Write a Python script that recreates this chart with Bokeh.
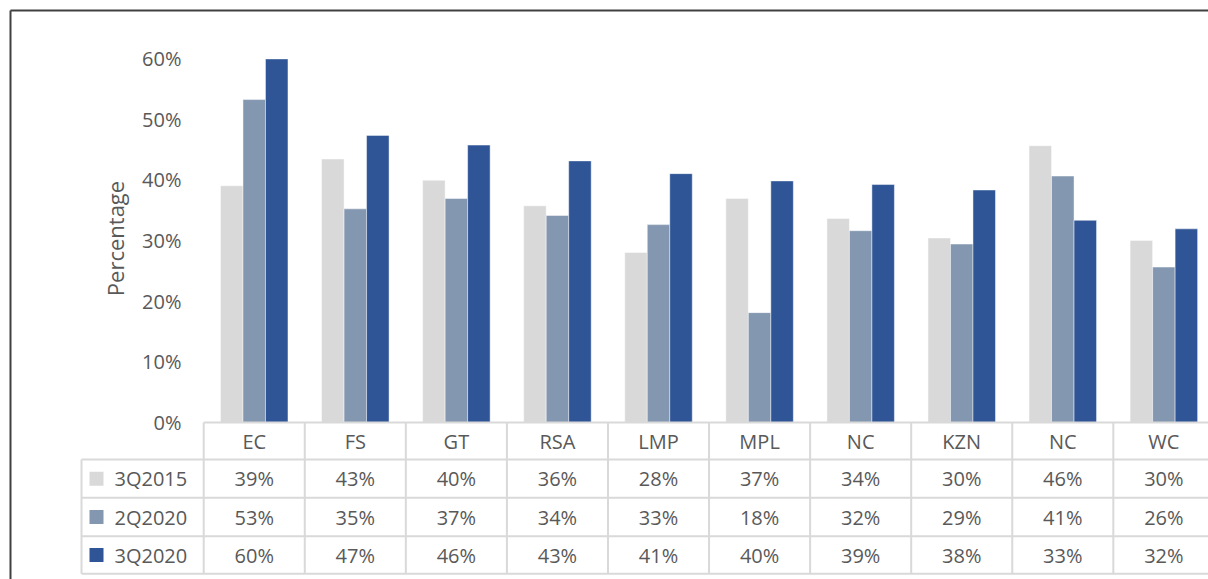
import math
from bokeh.plotting import figure
from bokeh.models import Range1d, ColumnDataSource
from bokeh.core.properties import value
from bokeh.embed import file_html
from bokeh.resources import INLINE

# ---------------- data ----------------
categories = ["EC", "FS", "GT", "RSA", "LMP", "MPL", "NC", "KZN", "NC", "WC"]
series_names = ["3Q2015", "2Q2020", "3Q2020"]
s_3q2015 = [39.0, 43.4, 39.9, 35.7, 28.0, 36.9, 33.6, 30.4, 45.6, 30.0]
s_2q2020 = [53.2, 35.2, 36.9, 34.1, 32.6, 18.1, 31.6, 29.4, 40.6, 25.6]
s_3q2020 = [59.9, 47.3, 45.7, 43.1, 41.0, 39.8, 39.2, 38.3, 33.3, 31.9]
lab_3q2015 = ["39%", "43%", "40%", "36%", "28%", "37%", "34%", "30%", "46%", "30%"]
lab_2q2020 = ["53%", "35%", "37%", "34%", "33%", "18%", "32%", "29%", "41%", "26%"]
lab_3q2020 = ["60%", "47%", "46%", "43%", "41%", "40%", "39%", "38%", "33%", "32%"]
y_ticks = [0, 10, 20, 30, 40, 50, 60]
y_label = "Percentage"

series_values = [s_3q2015, s_2q2020, s_3q2020]
series_labels = [lab_3q2015, lab_2q2020, lab_3q2020]
colors = ["#d9d9d9", "#8497b0", "#2f5597"]

# ---------------- layout (pixel geometry) ----------------
W, H = 1208, 579
X0_PX, CAT_PX = 203.2, 101.07     # left edge of first category cell, cell width
Y0_PX, UNIT_PX = 422.0, 6.07      # pixel row of 0 %, pixels per 1 %

def px_x(px):
    return (px - X0_PX) / CAT_PX

def px_y(py):
    return (Y0_PX - py) / UNIT_PX

FONT = value("Open Sans")
TXT = "#595959"
GRID = "#d9d9d9"

p = figure(width=W, height=H, output_backend="svg", toolbar_location=None,
           x_range=Range1d(px_x(0), px_x(W)), y_range=Range1d(px_y(H), px_y(0)),
           x_axis_location=None, y_axis_location=None, min_border=0,
           outline_line_color=None, background_fill_color="white",
           border_fill_color="white", tools="")
p.grid.grid_line_color = None
p.grid.visible = False

n = len(categories)
bw = 0.2226

# ---------------- bars ----------------
for k, (vals, col) in enumerate(zip(series_values, colors)):
    src = ColumnDataSource(dict(x=[i + 0.5 + (k - 1) * bw for i in range(n)], top=vals))
    p.vbar(x="x", top="top", bottom=0, width=bw, source=src,
           fill_color=col, line_color="white", line_alpha=0.45, line_width=1)

# ---------------- data table under the chart ----------------
hdr_bot = px_y(459)
row_edges = [hdr_bot, px_y(497.3), px_y(535.7), px_y(573.3)]
tbl_left = px_x(81)
x_right = px_x(W + 5)

# horizontal lines
p.segment(x0=[0], y0=[0], x1=[x_right], y1=[0], line_color=GRID, line_width=2)
p.segment(x0=[tbl_left] * 4, y0=row_edges, x1=[x_right] * 4, y1=row_edges,
          line_color=GRID, line_width=2)
# vertical lines
p.segment(x0=list(range(n + 1)), y0=[0] * (n + 1), x1=list(range(n + 1)),
          y1=[row_edges[-1]] * (n + 1), line_color=GRID, line_width=2)
p.segment(x0=[tbl_left], y0=[hdr_bot], x1=[tbl_left], y1=[row_edges[-1]],
          line_color=GRID, line_width=2)

# header (category) labels
p.text(x=[i + 0.5 for i in range(n)], y=[hdr_bot / 2] * n, text=categories,
       text_align="center", text_baseline="middle", text_font=FONT,
       text_font_size="20px", text_color=TXT)

row_centers = [(row_edges[r] + row_edges[r + 1]) / 2 for r in range(3)]
for r in range(3):
    p.text(x=[i + 0.5 for i in range(n)], y=[row_centers[r]] * n, text=series_labels[r],
           text_align="center", text_baseline="middle", text_font=FONT,
           text_font_size="20px", text_color=TXT)

# legend keys in first column
p.rect(x=[px_x(96)] * 3, y=row_centers, width=14, height=14,
       width_units="screen", height_units="screen", fill_color=colors, line_color=None)
p.text(x=[px_x(114)] * 3, y=row_centers, text=series_names, text_align="left",
       text_baseline="middle", text_font=FONT, text_font_size="20px", text_color=TXT)

# ---------------- y axis tick labels and title ----------------
p.text(x=[px_x(181)] * len(y_ticks), y=y_ticks, text=[f"{t}%" for t in y_ticks],
       text_align="right", text_baseline="middle", text_font=FONT,
       text_font_size="20px", text_color=TXT)
p.text(x=[px_x(114)], y=[px_y(238)], text=[y_label], angle=math.pi / 2,
       text_align="center", text_baseline="middle", text_font=FONT,
       text_font_size="22px", text_color=TXT)

# ---------------- outer frame lines ----------------
p.segment(x0=[px_x(10), px_x(10)], y0=[px_y(10), px_y(10)],
          x1=[x_right, px_x(10)], y1=[px_y(10), px_y(H + 5)],
          line_color="#404040", line_width=2)

open("out.html", "w").write(file_html(p, INLINE))
